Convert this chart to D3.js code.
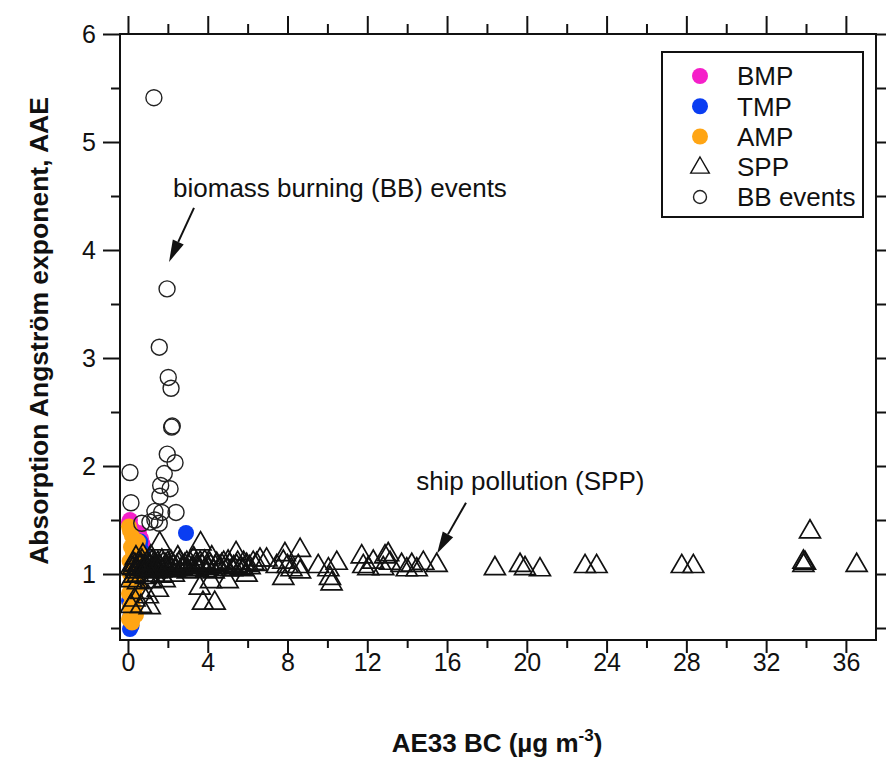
<!DOCTYPE html>
<html>
<head>
<meta charset="utf-8">
<script src="https://cdn.jsdelivr.net/npm/d3@7"></script>
<style>
  body { margin: 0; background: #fff; }
  svg text { font-family: "Liberation Sans", Arial, sans-serif; fill: #111; }
</style>
</head>
<body>
<svg id="chart" width="888" height="757"></svg>
<script>
// ---- data (AE33 BC in ug m-3, AAE) ----
var bmpX = [0.05, 0.12, 0.2, 0.55, 0.65, 0.72, 0.3, 0.5, 0.1];
var bmpY = [1.48, 1.45, 1.42, 1.38, 1.33, 1.28, 1.36, 1.24, 1.5];

var tmpX = [0.1, 0.18, 0.05, 0.55, 0.72, 0.4, 0.1, 0.62, 2.91];
var tmpY = [0.49, 0.52, 0.75, 1.26, 1.21, 1.15, 0.6, 1.3, 1.38];

var ampX = [0.05, 0.1, 0.2, 0.3, 0.15, 0.25, 0.4, 0.08, 0.2, 0.35, 0.1, 0.3, 0.45, 0.15, 0.25, 0.05, 0.35, 0.2, 0.1, 0.3, 0.15, 0.25, 0.05, 0.2, 0.4, 0.5, 0.55, 0.45, 0.6, 0.5];
var ampY = [1.44, 1.4, 1.35, 1.3, 1.25, 1.2, 1.18, 1.12, 1.08, 1.04, 1.0, 0.96, 0.92, 0.9, 0.85, 0.82, 0.8, 0.75, 0.7, 0.68, 0.64, 0.6, 0.58, 0.55, 0.62, 1.3, 1.2, 1.1, 1.0, 0.9];

var sppX = [0.16, 0.25, 0.35, 0.45, 0.55, 0.6, 0.7, 0.8, 0.85, 0.95, 1.0, 1.1, 1.2, 1.25, 1.35, 1.45, 1.5, 1.6, 1.7, 1.8, 1.9, 2.0, 2.1, 2.2, 2.35, 2.45, 2.6, 2.7, 2.85, 3.0, 3.1, 3.25, 3.4, 3.5, 3.7, 3.85, 4.0, 4.15, 4.3, 4.45, 4.6, 4.8, 4.95, 5.1, 5.3, 5.5, 5.65,
  0.3, 0.5, 0.9, 1.3, 1.7, 2.3, 0.4, 0.75, 1.15, 2.5, 3.3, 4.2,
  0.28, 0.42, 0.65, 0.78, 0.92, 1.05, 1.18, 1.32, 1.42, 1.55, 1.66, 1.76, 1.88, 1.98, 2.15, 2.28, 2.4, 2.55, 2.78, 2.95, 3.18, 3.45, 3.62, 3.92, 4.1, 4.38, 4.7, 5.02, 5.22, 5.45, 5.8, 6.1, 6.45,
  1.59, 3.64, 5.42, 0.16, 0.5, 1.15, 1.84, 4.16, 5.0, 3.6, 0.65, 1.0, 1.5, 0.33, 1.09, 3.76, 4.35, 0.65, 0.15,
  5.77, 5.95, 5.95, 6.28, 6.62, 6.95, 7.46, 7.79, 7.79, 7.87, 8.0, 8.2, 8.54, 8.63, 8.63, 9.54, 10.05, 10.13, 10.21, 10.47, 11.72, 11.8, 12.05, 12.3, 12.89,
  12.8, 13.05, 13.14, 13.72, 13.98, 14.23, 14.48, 14.81, 15.48, 18.4, 19.66, 19.91, 20.66, 22.92, 23.5, 27.77, 28.35, 33.87, 33.95, 33.87, 34.2, 36.54];
var sppY = [1.06, 1.05, 1.08, 1.02, 1.1, 1.06, 1.12, 1.04, 1.08, 1.1, 1.03, 1.07, 1.11, 1.05, 1.08, 1.02, 1.1, 1.06, 1.12, 1.04, 1.08, 1.1, 1.05, 1.09, 1.03, 1.07, 1.11, 1.05, 1.08, 1.02, 1.1, 1.06, 1.09, 1.04, 1.08, 1.11, 1.05, 1.07, 1.02, 1.09, 1.06, 1.1, 1.04, 1.08, 1.06, 1.1, 1.05,
  0.98, 0.99, 0.97, 0.99, 0.98, 0.99, 1.15, 1.17, 1.16, 1.15, 1.14, 1.15,
  1.09, 1.04, 1.09, 1.06, 1.05, 1.09, 1.04, 1.1, 1.06, 1.08, 1.03, 1.09, 1.06, 1.05, 1.11, 1.07, 1.04, 1.09, 1.06, 1.1, 1.04, 1.07, 1.1, 1.03, 1.09, 1.06, 1.08, 1.11, 1.04, 1.07, 1.1, 1.06, 1.09,
  1.28, 1.28, 1.19, 0.94, 0.92, 0.93, 0.94, 0.93, 0.93, 0.87, 0.83, 0.79, 0.85, 0.76, 0.69, 0.73, 0.73, 0.7, 0.7,
  1.04, 1.08, 0.99, 1.1, 1.13, 1.13, 1.07, 1.11, 0.96, 1.18, 1.07, 1.04, 1.07, 1.22, 1.02, 1.07, 1.04, 0.96, 0.91, 1.1, 1.16, 1.07, 1.05, 1.11, 1.16,
  1.05, 1.18, 1.1, 1.08, 1.04, 1.08, 1.04, 1.1, 1.08, 1.05, 1.08, 1.05, 1.04, 1.07, 1.07, 1.07, 1.07, 1.11, 1.1, 1.08, 1.39, 1.08];

var bbX = [1.3, 1.96, 1.57, 2.02, 2.16, 2.19, 2.22, 1.97, 2.36, 0.1, 1.82, 1.64, 2.11, 1.6, 0.15, 2.41, 1.69, 1.35, 1.57, 0.69, 1.1, 1.35];
var bbY = [5.41, 3.64, 3.1, 2.82, 2.72, 2.36, 2.37, 2.11, 2.03, 1.94, 1.93, 1.82, 1.79, 1.72, 1.66, 1.57, 1.57, 1.5, 1.47, 1.47, 1.48, 1.58];

var xMajor = [0, 4, 8, 12, 16, 20, 24, 28, 32, 36];
var xMinor = [2, 6, 10, 14, 18, 22, 26, 30, 34];
var yMajor = [1, 2, 3, 4, 5, 6];
var yMinor = [0.5, 1.5, 2.5, 3.5, 4.5, 5.5];

var legendNames = ["BMP", "TMP", "AMP", "SPP", "BB events"];
var colors = { BMP: "#f51fc9", TMP: "#0a3df2", AMP: "#ffa514" };

// annotations, data units
var bbNote = { text: "biomass burning (BB) events", tx: 2.26, ty: 4.49, x1: 3.31, y1: 4.39, x2: 2.06, y2: 3.89 };
var sppNote = { text: "ship pollution (SPP)", tx: 14.45, ty: 1.78, x1: 16.95, y1: 1.66, x2: 15.5, y2: 1.19 };

// ---- layout ----
var svg = d3.select("#chart");
var pLeft = 120, pRight = 876, pTop = 34, pBottom = 640;

var x = d3.scaleLinear().domain([-0.4, 37.51]).range([pLeft, pRight]);
var y = d3.scaleLinear().domain([0.389, 6]).range([pBottom, pTop]);

// ---- axes ----
function styleAxis(g) {
  g.select(".domain").remove();
  g.selectAll(".tick line").attr("stroke", "#111").attr("stroke-width", 2);
  g.selectAll(".tick text").style("font-size", "25px").attr("fill", "#111");
}

svg.append("g").attr("transform", "translate(0," + pBottom + ")")
  .call(d3.axisBottom(x).tickValues(xMajor).tickSize(13).tickPadding(0).tickFormat(d3.format("d")))
  .call(styleAxis);
svg.append("g").attr("transform", "translate(0," + pBottom + ")")
  .call(d3.axisBottom(x).tickValues(xMinor).tickSize(8).tickFormat(""))
  .call(styleAxis);
svg.append("g").attr("transform", "translate(0," + pTop + ")")
  .call(d3.axisTop(x).tickValues(xMajor).tickSize(18).tickFormat(""))
  .call(styleAxis);
svg.append("g").attr("transform", "translate(0," + pTop + ")")
  .call(d3.axisTop(x).tickValues(xMinor).tickSize(10).tickFormat(""))
  .call(styleAxis);

svg.append("g").attr("transform", "translate(" + pLeft + ",0)")
  .call(d3.axisLeft(y).tickValues(yMajor).tickSize(17).tickPadding(7).tickFormat(d3.format("d")))
  .call(styleAxis);
svg.append("g").attr("transform", "translate(" + pLeft + ",0)")
  .call(d3.axisLeft(y).tickValues(yMinor).tickSize(9).tickFormat(""))
  .call(styleAxis);
svg.append("g").attr("transform", "translate(" + pRight + ",0)")
  .call(d3.axisRight(y).tickValues(yMajor.concat(yMinor)).tickSize(10).tickFormat(""))
  .call(styleAxis);

// frame
svg.append("rect")
  .attr("x", pLeft).attr("y", pTop)
  .attr("width", pRight - pLeft).attr("height", pBottom - pTop)
  .attr("fill", "none").attr("stroke", "#111").attr("stroke-width", 2);

// ---- points ----
var plot = svg.append("g");

function filled(xs, ys, col) {
  plot.append("g").selectAll("circle")
    .data(xs)
    .enter().append("circle")
      .attr("cx", function(d) { return x(d); })
      .attr("cy", function(d, i) { return y(ys[i]); })
      .attr("r", 8)
      .attr("fill", col);
}
filled(bmpX, bmpY, colors.BMP);
filled(tmpX, tmpY, colors.TMP);
filled(ampX, ampY, colors.AMP);

var tri = d3.symbol().type(d3.symbolTriangle).size(190);
plot.append("g").selectAll("path")
  .data(sppX)
  .enter().append("path")
    .attr("d", tri)
    .attr("transform", function(d, i) { return "translate(" + x(d) + "," + y(sppY[i]) + ")"; })
    .attr("fill", "none")
    .attr("stroke", "#111")
    .attr("stroke-width", 1.7);

plot.append("g").selectAll("circle")
  .data(bbX)
  .enter().append("circle")
    .attr("cx", function(d) { return x(d); })
    .attr("cy", function(d, i) { return y(bbY[i]); })
    .attr("r", 8)
    .attr("fill", "none")
    .attr("stroke", "#222")
    .attr("stroke-width", 1.4);

// ---- annotations ----
function note(n) {
  svg.append("text")
    .attr("x", x(n.tx)).attr("y", y(n.ty))
    .style("font-size", "26px")
    .text(n.text);
  var ax1 = x(n.x1), ay1 = y(n.y1), ax2 = x(n.x2), ay2 = y(n.y2);
  var ang = Math.atan2(ay2 - ay1, ax2 - ax1);
  var len = 22, w = 6;
  var bx = ax2 - len * Math.cos(ang), by = ay2 - len * Math.sin(ang);
  svg.append("line")
    .attr("x1", ax1).attr("y1", ay1).attr("x2", bx).attr("y2", by)
    .attr("stroke", "#111").attr("stroke-width", 2);
  var pts = [
    [ax2, ay2],
    [bx + w * Math.sin(ang), by - w * Math.cos(ang)],
    [bx - w * Math.sin(ang), by + w * Math.cos(ang)]
  ];
  svg.append("polygon")
    .attr("points", pts.map(function(p) { return p.join(","); }).join(" "))
    .attr("fill", "#111");
}
note(bbNote);
note(sppNote);

// ---- legend ----
var lg = svg.append("g").attr("transform", "translate(662,52)");
lg.append("rect")
  .attr("width", 201).attr("height", 165)
  .attr("fill", "#fff").attr("stroke", "#111").attr("stroke-width", 2);

var rowY = d3.scalePoint().domain(legendNames).range([24, 145]);
legendNames.forEach(function(name) {
  var cy = rowY(name);
  if (colors[name]) {
    lg.append("circle").attr("cx", 38).attr("cy", cy).attr("r", 8).attr("fill", colors[name]);
  } else if (name == "SPP") {
    lg.append("path").attr("d", d3.symbol().type(d3.symbolTriangle).size(150))
      .attr("transform", "translate(38," + (cy + 1) + ")")
      .attr("fill", "none").attr("stroke", "#111").attr("stroke-width", 1.4);
  } else {
    lg.append("circle").attr("cx", 38).attr("cy", cy).attr("r", 6.5)
      .attr("fill", "none").attr("stroke", "#222").attr("stroke-width", 1.4);
  }
  lg.append("text")
    .attr("x", 75).attr("y", cy)
    .attr("dy", "0.36em")
    .style("font-size", "26px")
    .text(name);
});

// ---- axis titles ----
var xt = svg.append("text")
  .attr("x", 497).attr("y", 752)
  .attr("text-anchor", "middle")
  .style("font-size", "26px").style("font-weight", "bold");
xt.append("tspan").text("AE33 BC (\u00b5g m");
xt.append("tspan").attr("dy", -11).style("font-size", "17px").text("-3");
xt.append("tspan").attr("dy", 11).text(")");

svg.append("text")
  .attr("transform", "translate(48,331) rotate(-90)")
  .attr("text-anchor", "middle")
  .style("font-size", "26.5px").style("font-weight", "bold")
  .text("Absorption Angstr\u00f6m exponent, AAE");
</script>
</body>
</html>
